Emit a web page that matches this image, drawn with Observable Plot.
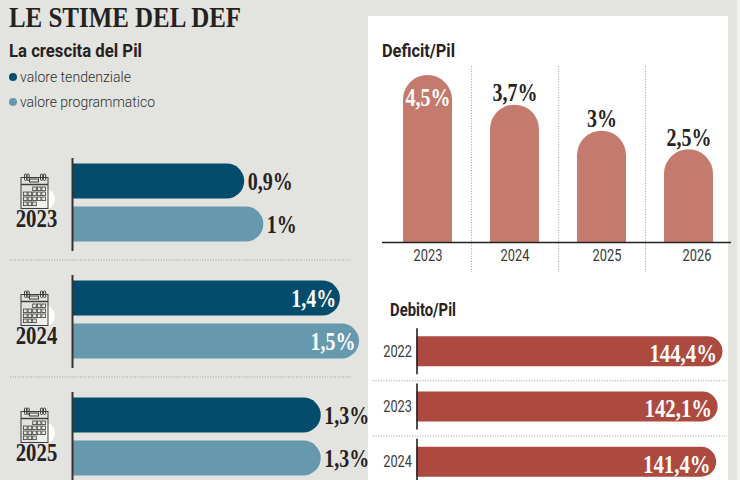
<!DOCTYPE html>
<html><head><meta charset="utf-8">
<script src="https://cdn.jsdelivr.net/npm/d3@7"></script>
<script src="https://cdn.jsdelivr.net/npm/@observablehq/plot@0.6"></script>
<style>
html,body{margin:0;padding:0;overflow:hidden;background:#e3e4df}
#page{position:relative;width:740px;height:480px;overflow:hidden;background:#e3e4df}
#page svg.plot,#page>svg{position:absolute;background:transparent;overflow:visible}
.t{position:absolute;white-space:nowrap;transform-origin:0 50%;line-height:1}
.panel{position:absolute;left:368px;top:16px;width:360px;height:464px;background:#fff}
.edge{position:absolute;left:737px;top:0;width:3px;height:480px;background:#f2f2f0}
.dot{position:absolute;width:8px;height:8px;border-radius:50%}
</style></head><body><div id="page"><div class="panel"></div><div class="edge"></div></div>
<script>
const crescitaAnni = ["2023", "2024", "2025"];
const tendenziale = [0.9, 1.4, 1.3];
const programmatico = [1, 1.5, 1.3];
const serieNomi = ["valore tendenziale", "valore programmatico"];
const serieColori = ["#034c6b", "#6698ae"];
const deficitAnni = ["2023", "2024", "2025", "2026"];
const deficitValori = [4.5, 3.7, 3, 2.5];
const debitoAnni = ["2022", "2023", "2024"];
const debitoValori = [144.4, 142.1, 141.4];

const SERIF = "'Liberation Serif',serif", SANS = "Roboto,sans-serif", INK = "#26221f";
const pct = v => String(v).replace(".", ",") + "%";
const page = document.getElementById("page");

function label(txt, left, cy, size, weight, width, color) {
  const d = document.createElement("div");
  d.className = "t"; d.textContent = txt;
  d.style.cssText = `left:${left}px;top:${cy - size / 2}px;font:${weight} ${size}px ${size > 25 ? SERIF : SANS};color:${color || INK};line-height:${size}px`;
  page.appendChild(d);
  d.style.transform = `scaleX(${width / d.getBoundingClientRect().width})`;
}
function place(svg, left, top) {
  svg.style.left = left + "px"; svg.style.top = top + "px";
  page.appendChild(svg);
  for (const [cls, f] of [["serif", 0.8], ["sans", 0.8]])
    svg.querySelectorAll(`g.${cls} text`).forEach(t => {
      t.setAttribute("textLength", t.getComputedTextLength() * f);
      t.setAttribute("lengthAdjust", "spacingAndGlyphs");
    });
}

// Calendar icon, used as an image mark
function calendario() {
  let s = `<svg xmlns="http://www.w3.org/2000/svg" viewBox="0 0 40 40" width="40" height="40" fill="none" stroke="#3f3f3d" stroke-width="1">`;
  s += `<circle cx="26" cy="27" r="10.5" fill="#fff" stroke="none"/>`;
  s += `<rect x="2.5" y="5.5" width="27" height="31" fill="#e3e4df" fill-opacity=".55"/><path d="M2.5 12.5h27" stroke-width="1.3"/>`;
  for (const x of [6, 8.5, 22, 25]) s += `<rect x="${x}" y="2" width="2.2" height="6.5" rx="1"/>`;
  s += `<rect x="11" y="7" width="9" height="3"/>`;
  const rows = [[3, 3], [0, 5], [0, 5], [0, 3]];
  rows.forEach(([st, n], r) => {
    for (let c = st === 3 ? 2 : 0; c < (st === 3 ? 5 : n); c++)
      s += `<rect x="${5 + c * 4.6}" y="${15 + r * 5}" width="3.6" height="3.6" stroke-width=".8"/>`;
  });
  return "data:image/svg+xml," + encodeURIComponent(s + "</svg>");
}

label("LE STIME DEL DEF", 9, 16.9, 30, 700, 232, "#24211f");
label("La crescita del Pil", 9, 51, 18, 700, 133);
label("Deficit/Pil", 382, 51, 18, 700, 73);
label("Debito/Pil", 390, 310, 18, 700, 66);
serieNomi.forEach((n, i) => {
  const cy = [77, 102][i];
  const d = document.createElement("div");
  d.className = "dot";
  d.style.cssText = `left:9px;top:${cy - 4}px;background:${serieColori[i]}`;
  page.appendChild(d);
  label(n, 20, cy, 15, 300, [111, 135][i], "#2f2f2e");
});

// La crescita del Pil
const crescita = crescitaAnni.flatMap((anno, i) => [
  {anno, serie: serieNomi[0], v: tendenziale[i]},
  {anno, serie: serieNomi[1], v: programmatico[i]}
]);
const dentro = d => d.v >= 1.4;
place(Plot.plot({
  width: 368, height: 510,
  marginLeft: 10, marginRight: 17, marginTop: 132.5, marginBottom: 0,
  style: {background: "transparent"},
  x: {domain: [0, 1.5], range: [72, 359], axis: null},
  y: {domain: serieNomi, axis: null, paddingInner: 0.186, paddingOuter: 0.174, align: 0.4},
  fy: {domain: crescitaAnni, axis: null, paddingInner: 0.2085, paddingOuter: 0.2085},
  color: {domain: serieNomi, range: serieColori},
  marks: [
    Plot.ruleY(crescitaAnni.slice(0, 2), {fy: d => d, y: () => serieNomi[1], dy: 35.5, stroke: "#9a9a96", strokeWidth: 1, strokeDasharray: "1 1.6"}),
    Plot.barX(crescita, {x: "v", y: "serie", fy: "anno", fill: "serie", rx2: 17.5}),
    Plot.ruleX([0], {stroke: "#333", strokeWidth: 2}),
    Plot.text(crescita.filter(d => !dentro(d)), {x: "v", y: "serie", fy: "anno", text: d => pct(d.v), textAnchor: "start", dx: 3, fill: INK, fontFamily: SERIF, fontWeight: 700, fontSize: 25, className: "serif"}),
    Plot.text(crescita.filter(dentro), {x: "v", y: "serie", fy: "anno", text: d => pct(d.v), textAnchor: "end", dx: -4, fill: "#fff", fontFamily: SERIF, fontWeight: 700, fontSize: 25, className: "serif"}),
    Plot.image(crescitaAnni, {fy: d => d, src: () => calendario(), frameAnchor: "left", dx: 28, dy: -13, width: 40, height: 40}),
    Plot.text(crescitaAnni, {fy: d => d, text: d => d, frameAnchor: "left", dx: 26, dy: 13.5, textAnchor: "middle", fill: INK, fontFamily: SERIF, fontWeight: 700, fontSize: 26, className: "serif"})
  ]
}), 0, 0);

// Deficit/Pil
const deficit = deficitAnni.map((anno, i) => ({anno, v: deficitValori[i]}));
const spostamentoEtichette = [0, 0, 5, 8];
place(Plot.plot({
  width: 372, height: 272,
  marginLeft: 14, marginRight: 9, marginTop: 66, marginBottom: 0,
  style: {background: "transparent"},
  x: {domain: deficitAnni, axis: null, range: [15.4, 364.2], paddingInner: 0.438, paddingOuter: 0.219},
  y: {domain: [0, 4.5], range: [242, 75], axis: null},
  marks: [
    Plot.ruleX(deficitAnni.slice(0, 3), {x: d => d, dx: 43.6, stroke: "#9a9a96", strokeWidth: 1, strokeDasharray: "1 1.6"}),
    Plot.barY(deficit, {x: "anno", y: "v", fill: "#c47a6d", ry1: 24.5}),
    Plot.ruleY([0], {stroke: "#222", strokeWidth: 1.6}),
    Plot.text(deficit, {x: "anno", y: "v", text: d => pct(d.v), fill: INK, fontFamily: SERIF, fontWeight: 700, fontSize: 25, textAnchor: "middle", className: "serif", filter: d => d.v < 4, dy: -12}),
    Plot.text(deficit, {x: "anno", y: "v", text: d => pct(d.v), fill: "#fff", fontFamily: SERIF, fontWeight: 700, fontSize: 25, textAnchor: "middle", className: "serif", filter: d => d.v >= 4, dy: 22}),
    ...deficit.map((d, i) => Plot.text([d], {x: "anno", y: 0, text: "anno", dy: 13, dx: spostamentoEtichette[i], fill: "#3a3a3a", fontFamily: SANS, fontWeight: 400, fontSize: 16, className: "sans"}))
  ]
}), 368, 0);

// Debito/Pil
const debito = debitoAnni.map((anno, i) => ({anno, v: debitoValori[i]}));
place(Plot.plot({
  width: 372, height: 191,
  marginLeft: 5, marginRight: 13, marginTop: 0, marginBottom: 0,
  style: {background: "transparent"},
  x: {domain: [0, 144.4], range: [48.5, 354.5], axis: null},
  y: {domain: debitoAnni, axis: null, padding: 0.4575, round: false},
  marks: [
    Plot.ruleY(debitoAnni.slice(0, 2), {y: d => d, dy: 29, stroke: "#9a9a96", strokeWidth: 1, strokeDasharray: "1 1.6"}),
    Plot.barX(debito, {x: "v", y: "anno", fill: "#ac4a40", rx2: 15}),
    Plot.tickX(debito, {x: 0, y: "anno", stroke: "#222", strokeWidth: 1.6, insetTop: -8, insetBottom: -8}),
    Plot.text(debito, {x: "v", y: "anno", text: d => pct(d.v), textAnchor: "end", dx: -6, dy: 2, fill: "#fff", fontFamily: SERIF, fontWeight: 700, fontSize: 26, className: "serif"}),
    Plot.text(debito, {x: 0, y: "anno", text: "anno", textAnchor: "end", dx: -5, fill: "#3a3a3a", fontFamily: SANS, fontWeight: 400, fontSize: 16, className: "sans"})
  ]
}), 368, 311.4);
</script></body></html>
